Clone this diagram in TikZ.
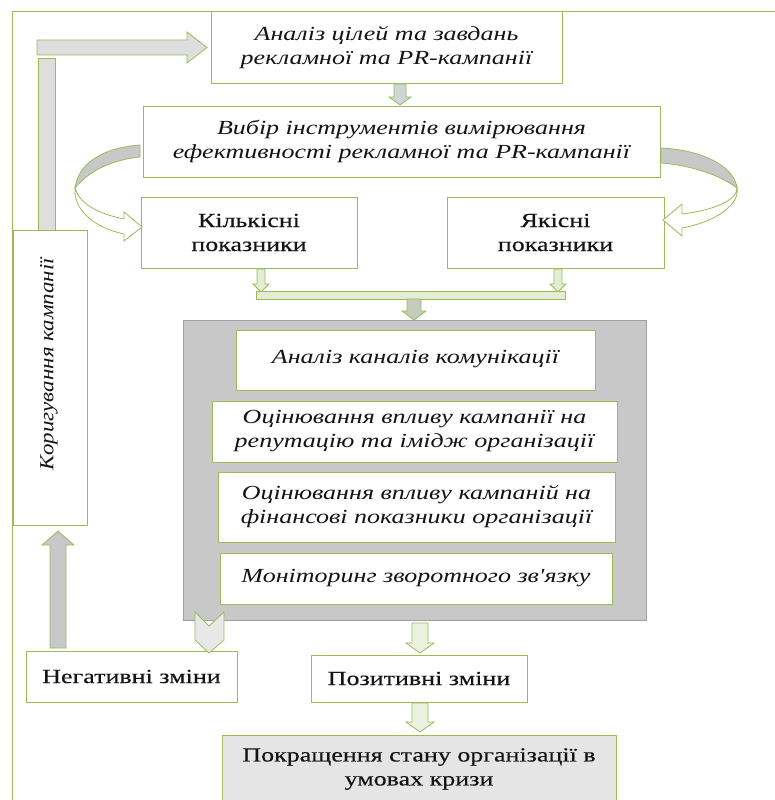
\documentclass[tikz,border=0pt]{standalone}
\usepackage{fontspec}
\setmainfont{Liberation Serif}[FakeStretch=1.3, Ligatures=TeXOff]
\newfontfamily\upfont{Liberation Serif}[FakeStretch=1.3, FakeBold=0.3]
\newfontfamily\vertfont{Liberation Serif}[FakeStretch=1.15]
\definecolor{gr}{RGB}{155,187,89}
\definecolor{txt}{RGB}{20,20,20}
\definecolor{lgray}{RGB}{222,222,222}
\definecolor{mgray}{RGB}{200,200,200}
\definecolor{lgreen}{RGB}{228,236,212}
\definecolor{vlgreen}{RGB}{236,242,224}
\definecolor{bgray}{RGB}{208,214,214}
\newcommand{\DArrow}[7]{%
  \draw[#7] ({#1-#4},#2) -- ({#1+#4},#2) -- ({#1+#4},{#3-#6}) -- ({#1+#5},{#3-#6}) -- (#1,#3) -- ({#1-#5},{#3-#6}) -- ({#1-#4},{#3-#6}) -- cycle;}
\begin{document}
\begin{tikzpicture}[x=1pt,y=-1pt,
  box/.style={draw=gr, line width=1pt, fill=white, inner sep=0pt, align=center, text=txt,
    font=\upfont\fontsize{20}{24}\selectfont},
  ibox/.style={box, font=\normalfont\fontsize{20}{24}\selectfont\itshape},
  arr/.style={draw=gr, line width=0.8pt, fill=#1},
  arr/.default=lgray]
\clip (0,0) rectangle (775,800);
\fill[white] (0,0) rectangle (775,800);
% outer frame
\draw[gr, line width=1pt] (12,800) -- (12,12) -- (775,12);

% top boxes
\node[ibox, minimum width=351, minimum height=71] (b1) at (386.5,47.5)
  {Аналіз цілей та завдань\\рекламної та PR-кампанії};
\node[ibox, minimum width=517, minimum height=71] (b2) at (401.5,141.5)
  {Вибір інструментів вимірювання\\ефективності рекламної та PR-кампанії};
\node[box, minimum width=216, minimum height=71] (kil) at (249,232.5)
  {Кількісні\\показники};
\node[box, minimum width=217, minimum height=71] (yak) at (555.5,232.5)
  {Якісні\\показники};

% gray container
\node[draw=mgray!80!black, line width=0.6pt, fill=mgray, minimum width=463, minimum height=300, inner sep=0pt] (grp) at (414.5,470) {};
\node[ibox, minimum width=359, minimum height=60] (c1) at (415.5,360)
  {\raisebox{7pt}{Аналіз каналів комунікації}};
\node[ibox, minimum width=405, minimum height=61] (c2) at (414.5,431.5)
  {Оцінювання впливу кампанії на\\репутацію та імідж організації};
\node[ibox, minimum width=397, minimum height=70] (c3) at (416.5,507)
  {Оцінювання впливу кампаній на\\фінансові показники організації};
\node[ibox, minimum width=392, minimum height=51] (c4) at (416,578.5)
  {Моніторинг зворотного зв'язку};

% left correction box
\node[box, minimum width=74, minimum height=295] (kor) at (50,377.5) {};
\node[rotate=90, text=txt, font=\vertfont\fontsize{20}{24}\selectfont\itshape] (kort) at (49,364) {Коригування кампанії};

% results
\node[box, minimum width=211, minimum height=51] (neg) at (131.5,676.5) {Негативні зміни};
\node[box, minimum width=216, minimum height=47] (pos) at (419,678.5) {Позитивні зміни};
\node[box, fill=lgray!80!white, minimum width=394, minimum height=68] (fin) at (419,769)
  {Покращення стану організації в\\умовах кризи};

% block arrows
\DArrow{400}{84}{105}{6}{11}{8}{arr=bgray}
\DArrow{261}{269}{292}{4}{8}{8}{arr=lgreen}
\DArrow{558}{269}{292}{4}{8}{8}{arr=lgreen}
\draw[arr=lgreen] (256,291) rectangle (565,299);
\DArrow{414}{299}{320}{7}{12}{9}{arr=lgreen!70!gray}
\DArrow{420}{623}{653}{8}{14}{10}{arr=vlgreen}
\DArrow{420}{703}{732}{8}{14}{10}{arr=vlgreen}
% up arrow from negative to correction
\draw[arr=mgray] (50,648) -- (66,648) -- (66,545) -- (74,545) -- (58,531) -- (42,545) -- (50,545) -- cycle;
% chevron from group to negative
\draw[arr=lgray!70!white] (195,612) -- (209,626) -- (224,612) -- (224,640) -- (209,653) -- (195,640) -- cycle;
% loop arrow
\draw[arr=lgray] (38,58) rectangle (55,230);
\draw[arr=lgray] (37,40) -- (187,40) -- (187,32) -- (207,47.5) -- (187,63) -- (187,55) -- (37,55) -- cycle;

% curved arrows
\draw[arr=mgray] (140,145) .. controls (100,148) and (78,165) .. (75,188) .. controls (88,172) and (110,160) .. (140,157) -- cycle;
\draw[arr=white] (75,188) .. controls (80,205) and (100,214) .. (124,219) -- (124,212) -- (142,227) -- (124,241) -- (124,234) .. controls (95,228) and (73,210) .. (75,188) -- cycle;
\draw[arr=mgray] (661,148) .. controls (705,150) and (735,168) .. (737,188) .. controls (720,175) and (690,165) .. (661,163) -- cycle;
\draw[arr=white] (737,188) .. controls (737,200) and (715,210) .. (682,214) -- (682,204) -- (663,220) -- (682,236) -- (682,228) .. controls (715,222) and (740,205) .. (737,188) -- cycle;
\end{tikzpicture}
\end{document}
